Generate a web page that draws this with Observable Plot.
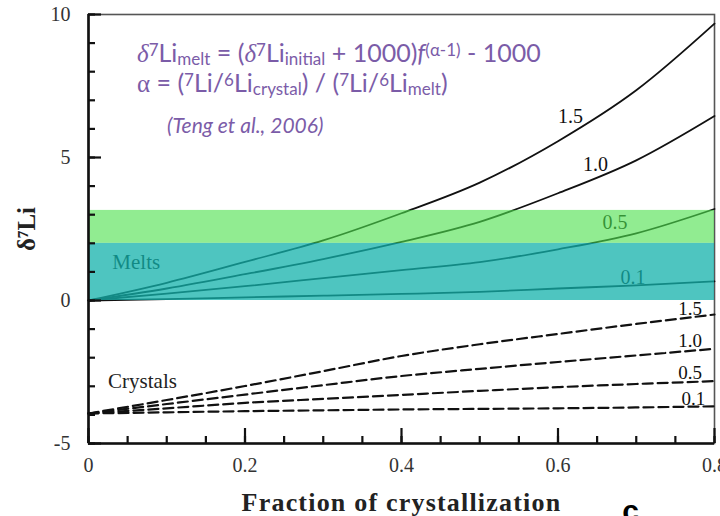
<!DOCTYPE html>
<html>
<head>
<meta charset="utf-8">
<script src="https://cdn.jsdelivr.net/npm/d3@7"></script>
<script src="https://cdn.jsdelivr.net/npm/@observablehq/plot@0.6"></script>
<style>
  html, body { margin: 0; padding: 0; background: #fff; overflow: hidden; width: 720px; height: 516px; }
  #wrap { position: relative; width: 720px; height: 516px; overflow: hidden; }
  .eq { position: absolute; white-space: nowrap; line-height: 1; font-family: Lato, "Open Sans", sans-serif; color: #7B5CA8; }
  .eq sub, .eq sup { font-size: 0.68em; line-height: 0; position: relative; vertical-align: baseline; }
  .eq sub { top: 0.18em; }
  .eq sup { top: -0.38em; }
  .eq .g { font-family: "Liberation Serif", serif; }
</style>
</head>
<body>
<div id="wrap"></div>
<script>
// Fraction of crystallization (x) sampled every 0.1
const fraction = [0, 0.1, 0.2, 0.3, 0.4, 0.5, 0.6, 0.7, 0.8];

// δ7Li of the residual melt for each fractionation (‰)
const melt15 = [0, 0.62, 1.35, 2.1, 3.05, 4.12, 5.57, 7.35, 9.68];
const melt10 = [0, 0.42, 0.92, 1.45, 2.05, 2.75, 3.75, 4.9, 6.45];
const melt05 = [0, 0.24, 0.5, 0.78, 1.06, 1.34, 1.79, 2.35, 3.2];
const melt01 = [0, 0.05, 0.11, 0.17, 0.23, 0.3, 0.42, 0.53, 0.67];

// δ7Li of the crystals for the same fractionations
const cryst15 = [-3.95, -3.48, -2.99, -2.47, -1.94, -1.53, -1.17, -0.82, -0.49];
const cryst10 = [-3.95, -3.62, -3.29, -2.96, -2.64, -2.39, -2.15, -1.92, -1.69];
const cryst05 = [-3.95, -3.77, -3.58, -3.44, -3.3, -3.16, -3.03, -2.92, -2.82];
const cryst01 = [-3.95, -3.91, -3.87, -3.84, -3.81, -3.79, -3.77, -3.74, -3.7];

const seriesNames = ["1.5", "1.0", "0.5", "0.1"];

// Observed melt range: lower band and upper band edges (δ7Li)
const bandEdges = [0, 2.0, 3.15];

// Curve label anchors (data units)
const meltLabelX = [0.616, 0.648, 0.673, 0.696];
const meltLabelY = [6.44, 4.75, 2.71, 0.81];
const crystLabelX = [0.769, 0.769, 0.769, 0.773];
const crystLabelY = [-0.28, -1.41, -2.54, -3.45];

// Axis ticks
const xDomain = [0, 0.8];
const yDomain = [-5, 10];
const xMajorTicks = [0, 0.2, 0.4, 0.6, 0.8];
const xMinorTicks = d3.range(0, 17).map(i => i * 0.05);
const yMajorTicks = [-5, 0, 5, 10];
const yMinorTicks = d3.range(-5, 11);

function rows(seriesList) {
  return seriesList.flatMap((vals, s) =>
    vals.map((v, i) => ({f: fraction[i], v, series: seriesNames[s]})));
}
const meltRows = rows([melt15, melt10, melt05, melt01]);
const crystRows = rows([cryst15, cryst10, cryst05, cryst01]);
const meltLabels = seriesNames.map((t, i) => ({x: meltLabelX[i], y: meltLabelY[i], t}));
const crystLabels = seriesNames.map((t, i) => ({x: crystLabelX[i], y: crystLabelY[i], t}));

const fmt = d => String(d);
const serif = "'Liberation Serif', 'Times New Roman', serif";
const x0 = fraction[0], x1 = fraction[fraction.length - 1];

const W = 720, H = 516, mL = 88, mR = 6, mT = 14, mB = 73;
const frameW = W - mL - mR, frameH = H - mT - mB;
// data units per pixel, used to give the inward ticks a fixed pixel length
const xPerPx = (xDomain[1] - xDomain[0]) / frameW;
const yPerPx = (yDomain[1] - yDomain[0]) / frameH;

const tickColor = "#111";
const yTicks = (ticks, len) => Plot.ruleY(ticks, {y: d => d, x1: xDomain[0], x2: xDomain[0] + len * xPerPx, stroke: tickColor, strokeWidth: 2.2});
const xTicks = (ticks, len) => Plot.ruleX(ticks, {x: d => d, y1: yDomain[0], y2: yDomain[0] + len * yPerPx, stroke: tickColor, strokeWidth: 2.2});

const chart = Plot.plot({
  width: W,
  height: H,
  marginLeft: mL,
  marginRight: mR,
  marginTop: mT,
  marginBottom: mB,
  x: {domain: xDomain},
  y: {domain: yDomain},
  style: {fontFamily: serif, background: "#fff", color: "#222"},
  marks: [
    Plot.frame({stroke: "#555", strokeWidth: 1.6}),
    // melt curves (solid) and crystal curves (dashed)
    Plot.line(meltRows, {x: "f", y: "v", z: "series", curve: "monotone-x", stroke: "#111", strokeWidth: 1.8}),
    Plot.line(crystRows, {x: "f", y: "v", z: "series", curve: "monotone-x", stroke: "#111", strokeWidth: 2.2, strokeDasharray: "10,5"}),
    Plot.text(meltLabels, {x: "x", y: "y", text: "t", fontSize: 20, fill: "#111"}),
    Plot.text(crystLabels, {x: "x", y: "y", text: "t", fontSize: 19, fill: "#111"}),
    Plot.text(["Melts"], {x: 0.061, y: 1.34, text: d => d, fontSize: 21, fill: "#111"}),
    Plot.text(["Crystals"], {x: 0.069, y: -2.82, text: d => d, fontSize: 21, fill: "#222"}),
    // translucent melt bands laid over the curves
    Plot.rect([0], {x1: x0, x2: x1, y1: bandEdges[0], y2: bandEdges[1], fill: "#13B2AB", fillOpacity: 0.75}),
    Plot.rect([0], {x1: x0, x2: x1, y1: bandEdges[1], y2: bandEdges[2], fill: "#4EE04E", fillOpacity: 0.62}),
    // axis lines
    Plot.ruleX([xDomain[0]], {stroke: "#111", strokeWidth: 2.6}),
    Plot.ruleY([yDomain[0]], {stroke: "#111", strokeWidth: 2.6}),
    // inward ticks
    yTicks(yMinorTicks, 7),
    yTicks(yMajorTicks, 13),
    xTicks(xMinorTicks, 7),
    xTicks(xMajorTicks, 15),
    // tick labels
    Plot.axisY(yMajorTicks, {tickSize: 0, tickPadding: 18, label: null, fontSize: 20, fill: "#333", tickFormat: fmt}),
    Plot.axisX(xMajorTicks, {tickSize: 0, tickPadding: 14, label: null, fontSize: 20, fill: "#333", tickFormat: fmt}),
    // axis titles
    Plot.text(["Fraction of crystallization"], {frameAnchor: "bottom", textAnchor: "middle", lineAnchor: "bottom", dy: 67, text: d => d, fontSize: 26, fontWeight: "bold", fill: "#222"}),
    Plot.text(["δ⁷Li"], {frameAnchor: "left", textAnchor: "middle", lineAnchor: "middle", dx: -62, rotate: -90, text: d => d, fontSize: 25, fontWeight: "bold", fill: "#222"}),
    // panel letter
    Plot.text(["c"], {frameAnchor: "bottom", textAnchor: "middle", dx: 229, dy: 77, lineAnchor: "bottom", text: d => d, fontSize: 30, fontWeight: "bold", fontFamily: "'Liberation Sans', sans-serif", fill: "#000"})
  ]
});

// slightly widen the bold axis title
d3.select(chart).selectAll("text")
  .filter(function () { return this.textContent === "Fraction of crystallization"; })
  .attr("letter-spacing", "1.2px");

const wrap = document.getElementById("wrap");
wrap.appendChild(chart);

// Equation block drawn as HTML text over the plot area
const eqLines = [
  {top: 40, left: 137, size: 25, html: '<i class="g">δ</i><sup>7</sup>Li<sub>melt</sub> = (<i class="g">δ</i><sup>7</sup>Li<sub>initial</sub> + 1000)<i>f</i><sup>(α-1)</sup> - 1000'},
  {top: 70, left: 137, size: 25, html: '<span class="g">α</span> = (<sup>7</sup>Li/<sup>6</sup>Li<sub>crystal</sub>) / (<sup>7</sup>Li/<sup>6</sup>Li<sub>melt</sub>)'},
  {top: 114, left: 167, size: 21, html: '<i>(Teng et al., 2006)</i>'}
];
for (const line of eqLines) {
  const d = document.createElement("div");
  d.className = "eq";
  d.style.top = line.top + "px";
  d.style.left = line.left + "px";
  d.style.fontSize = line.size + "px";
  d.innerHTML = line.html;
  wrap.appendChild(d);
}
</script>
</body>
</html>
